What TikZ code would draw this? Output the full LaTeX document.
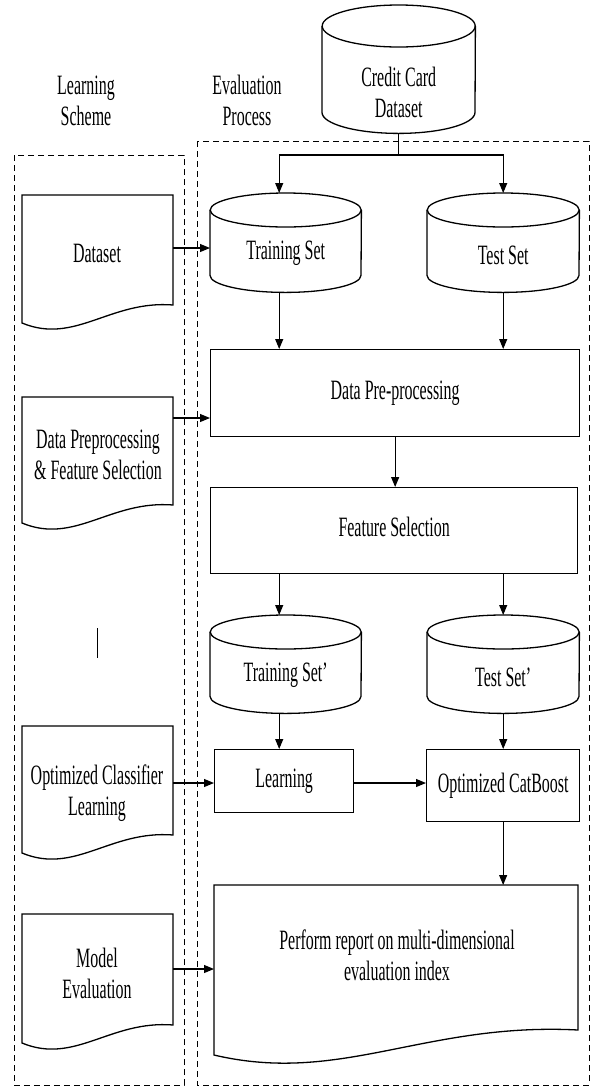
\documentclass[tikz,border=0pt]{standalone}
\usepackage{fontspec}
\newfontfamily\nfont[FakeStretch=0.57]{Liberation Serif}
\usetikzlibrary{arrows.meta}
\tikzset{
  x=1pt,y=1pt,
  every node/.style={font=\nfont\fontsize{28}{31}\selectfont,align=center,inner sep=0pt},
  ln/.style={line width=1.3pt,black},
  dbox/.style={line width=1pt,dash pattern=on 6pt off 4pt},
  arr/.style={line width=1.1pt,-{Triangle[length=10pt,width=8pt]}},
  holder/.style={draw=none,minimum width=#1,anchor=north west},
  rbox/.style={draw,line width=1.3pt,anchor=north west},
}
\newcommand\cylout[3]{%
  \draw[ln] ([yshift=-#3]#1.north west) -- ([yshift=#3]#1.south west)
    arc[start angle=180,end angle=360,x radius=#2,y radius=#3]
    -- ([yshift=-#3]#1.north east);
  \draw[ln] ([yshift=-#3]#1.north) ellipse[x radius=#2,y radius=#3];}
\begin{document}
\begin{tikzpicture}
\useasboundingbox (0,0) rectangle (592,-1088);
% dashed frames
\draw[dbox] (14,-155) rectangle (184,-1085);
\draw[dbox] (197,-141) rectangle (589,-1085);
\node (ttl1) at (86,-101) {Learning\\Scheme};
\node (ttl2) at (247,-100) {Evaluation\\Process};
% cylinders
\node[holder=153pt,minimum height=128pt,label={[yshift=-23pt]center:Credit Card\\Dataset}] (ccd) at (322,-5) {};
\cylout{ccd}{76.5pt}{21pt}
\node[holder=151pt,minimum height=99pt,label={[yshift=-11pt]center:Training Set}] (trs) at (210,-193) {};
\cylout{trs}{75.5pt}{17pt}
\node[holder=152pt,minimum height=99pt,label={[yshift=-13pt]center:Test Set}] (tes) at (427,-193) {};
\cylout{tes}{76pt}{17pt}
\node[holder=151pt,minimum height=98pt,label={[yshift=-11pt]center:Training Set’}] (trs2) at (210,-615) {};
\cylout{trs2}{75.5pt}{17pt}
\node[holder=152pt,minimum height=98pt,label={[yshift=-13pt]center:Test Set’}] (tes2) at (427,-615) {};
\cylout{tes2}{76pt}{17pt}
% rectangles
\node[rbox,minimum width=369pt,minimum height=87pt] (dpp) at (210,-349) {\raisebox{-5pt}{Data Pre-processing}};
\node[rbox,minimum width=367pt,minimum height=86pt] (fs) at (210,-487) {\raisebox{8pt}{Feature Selection}};
\node[rbox,minimum width=139pt,minimum height=63pt] (lrn) at (214,-749) {Learning};
\node[rbox,minimum width=153pt,minimum height=72pt] (cb) at (426,-749) {Optimized CatBoost};
% document shapes (left)
\node[holder=151pt,minimum height=128pt] (ds) at (22,-195) {};
\draw[ln] (22,-195) -- (173,-195) -- (173,-305) .. controls (110,-300) and (75,-345) .. (22,-323) -- cycle;
\node (dst) at (97,-253) {Dataset};
\node[holder=151pt,minimum height=126pt] (dpfs) at (22,-397) {};
\draw[ln] (22,-397) -- (173,-397) -- (173,-505) .. controls (110,-500) and (75,-545) .. (22,-523) -- cycle;
\node (dpfst) at (98,-455) {Data Preprocessing\\\& Feature Selection};
\node[holder=151pt,minimum height=127pt] (ocl) at (22,-726) {};
\draw[ln] (22,-726) -- (173,-726) -- (173,-835) .. controls (110,-830) and (75,-875) .. (22,-853) -- cycle;
\node (oclt) at (97,-793) {Optimized Classifier\\Learning};
\node[holder=151pt,minimum height=129pt] (me) at (22,-914) {};
\draw[ln] (22,-914) -- (173,-914) -- (173,-1025) .. controls (110,-1020) and (75,-1065) .. (22,-1043) -- cycle;
\node (met) at (97,-973) {Model\\Evaluation};
% perform report document
\node[holder=364pt,minimum height=170pt] (perf) at (214,-885) {};
\draw[ln] (214,-885) -- (578,-885) -- (578,-1030) .. controls (425,-1022) and (341,-1085) .. (214,-1055) -- cycle;
\node (perft) at (397,-955) {Perform report on multi-dimensional\\evaluation index};
% stray mark
\draw[line width=1pt] (97,-628) -- (97,-658);
% connectors
\coordinate (split) at (ccd.south |- 0,-155);
\draw[arr,-] (ccd.south) -- (split);
\draw[arr] (split) -| ([xshift=-6.5pt]trs.north);
\draw[arr] (split) -| (tes.north);
\draw[arr] ([xshift=-6.5pt]trs.south) -- ([xshift=-6.5pt]trs.south |- dpp.north);
\draw[arr] (tes.south) -- (tes.south |- dpp.north);
\draw[arr] (dpp.south) -- (dpp.south |- fs.north);
\draw[arr] ([xshift=-6.5pt]trs2.north |- fs.south) -- ([xshift=-6.5pt]trs2.north);
\draw[arr] (tes2.north |- fs.south) -- (tes2.north);
\draw[arr] ([xshift=-6.5pt]trs2.south) -- ([xshift=-6.5pt]trs2.south |- lrn.north);
\draw[arr] (tes2.south) -- (tes2.south |- cb.north);
\draw[arr] (lrn.east |- 0,-783) -- (cb.west |- 0,-783);
\draw[arr] (cb.south) -- (cb.south |- perf.north);
\draw[arr] (ds.east |- 0,-248) -- (trs.west |- 0,-248);
\draw[arr] (dpfs.east |- 0,-418) -- (dpp.west |- 0,-418);
\draw[arr] (ocl.east |- 0,-783) -- (lrn.west |- 0,-783);
\draw[arr] (me.east |- 0,-969) -- (perf.west |- 0,-969);
\end{tikzpicture}
\end{document}
